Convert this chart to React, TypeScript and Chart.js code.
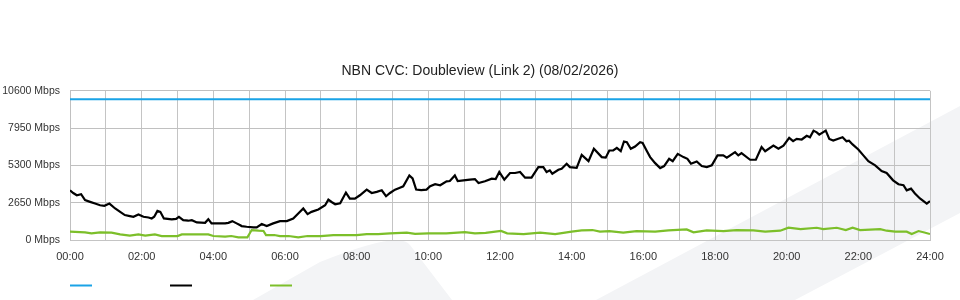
import React, { useEffect, useRef } from 'react';
import { Chart, registerables } from 'chart.js';

Chart.register(...registerables);

const TITLE = 'NBN CVC: Doubleview (Link 2) (08/02/2026)';
const Y_TICKS = [0, 2650, 5300, 7950, 10600];
const X_HOURS = [0, 1, 2, 3, 4, 5, 6, 7, 8, 9, 10, 11, 12, 13, 14, 15, 16, 17, 18, 19, 20, 21, 22, 23, 24];
const X_LABELS = ['00:00', '', '02:00', '', '04:00', '', '06:00', '', '08:00', '', '10:00', '', '12:00', '', '14:00', '', '16:00', '', '18:00', '', '20:00', '', '22:00', '', '24:00'];

// Capacity (blue)
const capTimes = [0, 24];
const capValues = [10000, 10000];

// Traffic (black)
const blackTimes = [
  0.00, 0.09, 0.19, 0.31, 0.42, 0.56, 0.70, 0.84, 0.96, 1.10, 1.26, 1.40, 1.53, 1.67, 1.77, 1.91, 2.05, 2.19, 2.28, 2.35,
  2.44, 2.52, 2.62, 2.84, 2.96, 3.04, 3.16, 3.30, 3.40, 3.54, 3.77, 3.86, 3.95, 4.14, 4.33, 4.42, 4.53, 4.65, 4.74, 4.79,
  4.93, 5.12, 5.21, 5.35, 5.49, 5.67, 5.86, 6.05, 6.23, 6.37, 6.51, 6.63, 6.74, 6.93, 7.12, 7.21, 7.30, 7.40, 7.54, 7.70,
  7.81, 7.95, 8.09, 8.28, 8.42, 8.56, 8.70, 8.82, 8.93, 9.07, 9.19, 9.30, 9.47, 9.56, 9.66, 9.80, 9.95, 10.05, 10.19, 10.33,
  10.51, 10.60, 10.74, 10.82, 10.98, 11.16, 11.30, 11.40, 11.58, 11.77, 11.88, 11.98, 12.12, 12.28, 12.42, 12.56, 12.70, 12.88, 13.07, 13.21,
  13.30, 13.39, 13.46, 13.63, 13.72, 13.86, 13.95, 14.14, 14.28, 14.47, 14.62, 14.84, 14.95, 15.05, 15.16, 15.26, 15.37, 15.46, 15.54, 15.65,
  15.77, 15.91, 15.98, 16.09, 16.19, 16.33, 16.47, 16.58, 16.72, 16.82, 16.96, 17.12, 17.23, 17.33, 17.49, 17.63, 17.77, 17.91, 18.07, 18.23,
  18.33, 18.56, 18.65, 18.74, 18.98, 19.14, 19.30, 19.40, 19.63, 19.77, 19.91, 20.07, 20.18, 20.28, 20.42, 20.56, 20.65, 20.75, 20.84, 20.91,
  21.09, 21.19, 21.30, 21.42, 21.56, 21.67, 21.74, 21.84, 22.00, 22.14, 22.28, 22.47, 22.65, 22.79, 22.97, 23.12, 23.26, 23.35, 23.47, 23.58,
  23.72, 23.91, 24.00,
];
const blackValues = [
  3530, 3340, 3180, 3250, 2830, 2710, 2590, 2470, 2430, 2590, 2240, 2000, 1770, 1700, 1650, 1810, 1650, 1600, 1530, 1650,
  2070, 2000, 1530, 1460, 1500, 1650, 1410, 1370, 1410, 1250, 1220, 1480, 1180, 1180, 1180, 1220, 1340, 1180, 1060, 990,
  940, 895, 895, 1130, 990, 1180, 1340, 1340, 1530, 1885, 2240, 1840, 2000, 2170, 2470, 2870, 2700, 2540, 2610, 3370,
  2945, 2945, 3180, 3580, 3340, 3420, 3530, 3110, 3340, 3580, 3700, 3815, 4590, 4380, 3580, 3540, 3580, 3815, 3960, 3890,
  4170, 4190, 4590, 4190, 4240, 4290, 4330, 4050, 4170, 4360, 4330, 4830, 4290, 4760, 4760, 4830, 4430, 4430, 5180, 5180,
  4830, 4950, 4710, 4990, 5060, 5420, 5180, 5130, 6050, 5600, 6480, 5890, 5850, 6360, 6360, 6550, 6310, 7000, 6950, 6480,
  6640, 6950, 6900, 6360, 5890, 5460, 5110, 5250, 5770, 5600, 6120, 5890, 5770, 5420, 5580, 5250, 5180, 5300, 6010, 6010,
  5850, 6240, 6010, 6170, 5700, 5700, 6600, 6310, 6710, 6480, 6700, 7260, 7020, 7180, 7140, 7400, 7300, 7770, 7650, 7490,
  7770, 7180, 7060, 7180, 7300, 7020, 7060, 6790, 6430, 6010, 5600, 5300, 4900, 4760, 4240, 3960, 3890, 3530, 3650, 3300,
  2950, 2590, 2760,
];

// Traffic (green)
const greenTimes = [
  0.00, 0.42, 0.60, 0.84, 1.16, 1.40, 1.67, 1.91, 2.10, 2.37, 2.56, 3.00, 3.12, 3.58, 3.86, 4.00, 4.33, 4.50, 4.70, 4.95,
  5.07, 5.26, 5.40, 5.47, 5.70, 5.86, 6.10, 6.37, 6.63, 7.00, 7.35, 8.00, 8.28, 8.60, 8.93, 9.40, 9.63, 10.00, 10.50, 11.02,
  11.30, 11.60, 12.03, 12.20, 12.66, 13.12, 13.54, 14.00, 14.28, 14.58, 14.79, 15.05, 15.44, 15.81, 16.33, 16.70, 17.21, 17.40, 17.77, 18.23,
  18.60, 19.07, 19.40, 19.82, 20.05, 20.39, 20.84, 21.02, 21.40, 21.65, 21.84, 22.05, 22.61, 22.79, 23.03, 23.35, 23.49, 23.68, 23.87, 24.00,
];
const greenValues = [
  590, 540, 470, 540, 520, 400, 306, 400, 306, 400, 282, 282, 400, 400, 400, 282, 235, 282, 188, 188,
  707, 660, 640, 353, 353, 282, 282, 188, 282, 282, 353, 353, 424, 424, 471, 518, 440, 471, 471, 560,
  471, 500, 640, 471, 420, 518, 420, 590, 680, 707, 590, 636, 518, 636, 590, 680, 754, 542, 680, 636,
  707, 680, 600, 660, 871, 777, 871, 777, 871, 707, 871, 707, 777, 660, 590, 590, 424, 636, 518, 424,
];

const pts = (xs: number[], ys: number[]) => xs.map((x, i) => ({ x, y: ys[i] }));

const bgPlugin = {
  id: 'bgShapes',
  beforeDraw(chart: any) {
    const { ctx } = chart;
    ctx.save();
    ctx.fillStyle = '#f3f4f6';
    ctx.beginPath();
    ctx.moveTo(253, 300);
    ctx.lineTo(320, 262);
    ctx.quadraticCurveTo(400, 230, 410, 245);
    ctx.lineTo(452, 300);
    ctx.closePath();
    ctx.fill();
    ctx.beginPath();
    ctx.moveTo(596, 300);
    ctx.lineTo(960, 106);
    ctx.lineTo(960, 213);
    ctx.lineTo(795, 300);
    ctx.closePath();
    ctx.fill();
    ctx.restore();
  },
};

const legendPlugin = {
  id: 'lineLegend',
  afterDraw(chart: any) {
    const { ctx, chartArea } = chart;
    ctx.save();
    chart.data.datasets.forEach((ds: any, i: number) => {
      const x0 = chartArea.left + i * 100;
      ctx.strokeStyle = ds.borderColor;
      ctx.lineWidth = 2;
      ctx.beginPath();
      ctx.moveTo(x0, 285.5);
      ctx.lineTo(x0 + 22, 285.5);
      ctx.stroke();
    });
    ctx.restore();
  },
};

export default function App() {
  const ref = useRef<HTMLCanvasElement | null>(null);
  useEffect(() => {
    if (!ref.current) return;
    const family = '"Liberation Sans", Arial, sans-serif';
    const chart = new Chart(ref.current, {
      type: 'line',
      data: {
        datasets: [
          { label: '', data: pts(capTimes, capValues), borderColor: '#1aa3e6', borderWidth: 2, pointRadius: 0, tension: 0 },
          { label: '', data: pts(blackTimes, blackValues), borderColor: '#000000', borderWidth: 2.2, pointRadius: 0, tension: 0 },
          { label: '', data: pts(greenTimes, greenValues), borderColor: '#7cbf2a', borderWidth: 2.2, pointRadius: 0, tension: 0 },
        ],
      },
      options: {
        responsive: false,
        animation: false,
        layout: { padding: { top: 55, left: 0, right: 0, bottom: 0 } },
        plugins: {
          legend: { display: false },
          tooltip: { enabled: false },
          title: {
            display: true,
            text: TITLE,
            color: '#222',
            font: { family, size: 14, weight: 'normal' },
            padding: { top: 8, bottom: 11 },
          },
        },
        scales: {
          x: {
            type: 'linear',
            min: 0,
            max: 24,
            afterBuildTicks: (s: any) => { s.ticks = X_HOURS.map((v) => ({ value: v })); },
            afterFit: (s: any) => { s.height = 60; },
            ticks: {
              autoSkip: false,
              maxRotation: 0,
              padding: 10,
              color: '#333',
              font: { family, size: 11 },
              callback: (v: any) => X_LABELS[X_HOURS.indexOf(Number(v))] ?? '',
            },
            grid: { color: '#c4c4c4', drawTicks: false },
            border: { color: '#c4c4c4' },
          },
          y: {
            min: 0,
            max: 10600,
            afterBuildTicks: (s: any) => { s.ticks = Y_TICKS.map((v) => ({ value: v })); },
            afterFit: (s: any) => { s.width = 70; },
            ticks: {
              padding: 10,
              color: '#333',
              font: { family, size: 10.5 },
              callback: (v: any) => `${v} Mbps`,
            },
            grid: { color: '#c0c0c0', drawTicks: false },
            border: { color: '#c0c0c0' },
          },
          yRight: {
            position: 'right',
            min: 0,
            max: 10600,
            afterFit: (s: any) => { s.width = 30; },
            ticks: { display: false },
            grid: { display: false, drawTicks: false },
            border: { display: false },
          },
        },
      },
      plugins: [bgPlugin, legendPlugin],
    } as any);
    return () => chart.destroy();
  }, []);
  return (
    <div style={{ position: 'absolute', left: 0, top: 0, width: 960, height: 300 }}>
      <canvas ref={ref} width={960} height={300} />
    </div>
  );
}
